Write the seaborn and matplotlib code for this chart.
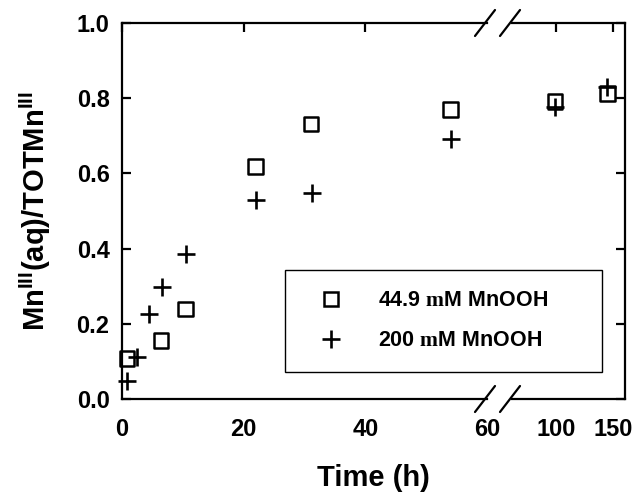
import numpy as np
import pandas as pd
import matplotlib
matplotlib.use('Agg')
import matplotlib.pyplot as plt
from matplotlib.lines import Line2D
import seaborn as sns

# --- data ---
time_449 = [0.8, 6.4, 10.4, 21.9, 31.1, 54.0, 99.0, 145.0]
frac_449 = [0.108, 0.155, 0.239, 0.618, 0.731, 0.770, 0.791, 0.813]
time_200 = [0.8, 2.4, 4.5, 6.5, 10.5, 22.0, 31.2, 54.1, 99.0, 145.0]
frac_200 = [0.048, 0.113, 0.226, 0.299, 0.386, 0.529, 0.547, 0.691, 0.777, 0.831]

series_labels = [r'44.9 $\mathrm{m}$M MnOOH', r'200 $\mathrm{m}$M MnOOH']
left_ticks = [0, 20, 40, 60]
right_ticks = [100, 150]
y_ticks = [0.0, 0.2, 0.4, 0.6, 0.8, 1.0]

sns.set_theme(style='white')
plt.rcParams['font.family'] = ['Liberation Sans', 'DejaVu Sans']
plt.rcParams['font.weight'] = 'bold'
plt.rcParams['text.color'] = 'black'
plt.rcParams['mathtext.fontset'] = 'custom'
plt.rcParams['mathtext.rm'] = 'Liberation Serif'
plt.rcParams['mathtext.bf'] = 'Liberation Sans:bold'

df_a = pd.DataFrame({'time': time_449, 'frac': frac_449})
df_b = pd.DataFrame({'time': time_200, 'frac': frac_200})

W, H = 641, 498
fig = plt.figure(figsize=(W / 100, H / 100), dpi=100)

# axes positions (pixels): left segment 122-487, right segment 512-625, y 23-399
x1l, x1r, x2l, x2r, ytop, ybot = 122, 487, 512, 625, 23, 399
ax1 = fig.add_axes([x1l / W, 1 - ybot / H, (x1r - x1l) / W, (ybot - ytop) / H])
ax2 = fig.add_axes([x2l / W, 1 - ybot / H, (x2r - x2l) / W, (ybot - ytop) / H], sharey=ax1)

sq_size = 110
plus_size = 170
for ax, sel in [(ax1, lambda d: d[d.time <= 60]), (ax2, lambda d: d[d.time > 60])]:
    sns.scatterplot(data=sel(df_a), x='time', y='frac', ax=ax, marker='s', s=sq_size,
                    color='black', edgecolor='black', linewidth=1.8, clip_on=False, zorder=3)
    ax.collections[-1].set_facecolor('none')
    sns.scatterplot(data=sel(df_b), x='time', y='frac', ax=ax, marker='+', s=plus_size,
                    color='black', linewidth=1.9, clip_on=False, zorder=3)

ax1.set_xlim(0, 60)
ax2.set_xlim(100 - (556 - x2l) / 1.14, 150 + (x2r - 613) / 1.14)
ax1.set_ylim(0, 1.0)
ax1.set_xticks(left_ticks)
ax2.set_xticks(right_ticks)
ax1.set_yticks(y_ticks)
ax1.set_yticklabels([f'{v:.1f}' for v in y_ticks])

for ax in (ax1, ax2):
    ax.set_xlabel('')
    ax.set_ylabel('')
    for sp in ax.spines.values():
        sp.set_linewidth(1.6)
        sp.set_color('black')
    ax.tick_params(direction='in', length=6.5, width=1.6, colors='black',
                   labelsize=17, top=True, pad=14, axis='x')
    ax.tick_params(direction='in', length=6.5, width=1.6, colors='black',
                   labelsize=17, pad=9, axis='y')

ax1.spines['right'].set_visible(False)
ax2.spines['left'].set_visible(False)
ax1.tick_params(axis='y', left=True, right=False)
ax2.tick_params(axis='y', left=False, right=True, labelleft=False)
# no tick line at 60 (it sits on the break)
t60 = ax1.xaxis.get_major_ticks()[3]
t60.tick1line.set_visible(False)
t60.tick2line.set_visible(False)

# break marks
for xc in (x1r - 2, x2l - 2):
    for yc in (ybot, ytop):
        fig.add_artist(Line2D([(xc - 10) / W, (xc + 10) / W],
                              [1 - (yc + 13) / H, 1 - (yc - 13) / H],
                              color='black', linewidth=1.6))

fig.text(35 / W, 1 - 211 / H, r'Mn$^{\mathbf{III}}$(aq)/TOTMn$^{\mathbf{III}}$',
         rotation=90, ha='center', va='center', fontsize=21, fontweight='bold')
fig.text(373 / W, 1 - 478 / H, 'Time (h)', ha='center', va='center',
         fontsize=21, fontweight='bold')

handles = [
    Line2D([], [], marker='s', markerfacecolor='none', markeredgecolor='black',
           markersize=10.5, markeredgewidth=1.8, linestyle='none'),
    Line2D([], [], marker='+', color='black', markersize=13,
           markeredgewidth=1.9, linestyle='none'),
]
leg = fig.legend(handles, series_labels, loc='upper left',
                 bbox_to_anchor=(285 / W, 1 - 270 / H, (602 - 285) / W, 0.0),
                 mode='expand', borderaxespad=0, fontsize=15.5, frameon=True,
                 fancybox=False, edgecolor='black', borderpad=0.95,
                 labelspacing=0.88, handlelength=2.4, handletextpad=0.95)
leg.get_frame().set_linewidth(1.0)
leg.get_frame().set_alpha(1)

fig.savefig('out.png', dpi=100)
